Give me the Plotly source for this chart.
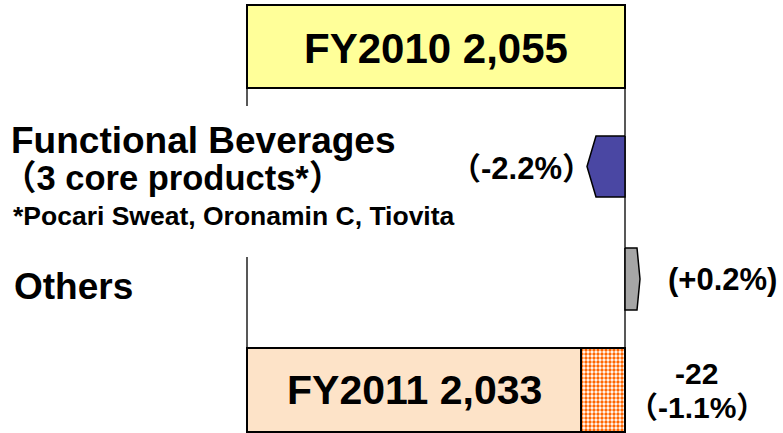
import plotly.graph_objects as go

# ---- data ----
fy_labels = ["FY2010", "FY2011"]
fy_values = [2055, 2033]
total_change = -22
total_change_pct = "-1.1%"
segment_names = ["Functional Beverages", "Others"]
segment_changes = [-19, 7.5]          # drawn bar lengths (schematic)
segment_pct = ["（-2.2%）", "(+0.2%)"]
footnote = "*Pocari Sweat, Oronamin C, Tiovita"

# ---- layout helpers (positions / styles) ----
W, H = 783, 433
X_START = 1866          # left edge of the bars on the value axis
PX_PER_UNIT = 2.0
x_lo = fy_values[0] - 625 / PX_PER_UNIT
x_hi = x_lo + W / PX_PER_UNIT

row_y = {"FY2010": 46.5, "Functional Beverages": 166.5, "Others": 279, "FY2011": 390}
row_h = {"FY2010": 83, "Functional Beverages": 61, "Others": 62, "FY2011": 84}

FONT = "Liberation Sans, Arial, Noto Sans CJK JP, sans-serif"

fig = go.Figure()

# FY2010 bar
fig.add_trace(go.Bar(
    orientation="h", y=[row_y["FY2010"]], x=[fy_values[0] - X_START], base=[X_START],
    width=[row_h["FY2010"]], marker=dict(color="#FFFF99", line=dict(color="black", width=2)),
    hoverinfo="skip", showlegend=False))

# FY2011 bar
fig.add_trace(go.Bar(
    orientation="h", y=[row_y["FY2011"]], x=[fy_values[1] - X_START], base=[X_START],
    width=[row_h["FY2011"]], marker=dict(color="#FDE3C8", line=dict(color="black", width=2)),
    hoverinfo="skip", showlegend=False))

# change bar (hatched)
fig.add_trace(go.Bar(
    orientation="h", y=[row_y["FY2011"]], x=[-total_change], base=[fy_values[1]],
    width=[row_h["FY2011"]],
    marker=dict(color="white", line=dict(color="black", width=2),
                pattern=dict(shape=".", fgcolor="#FF6600", bgcolor="white",
                             size=4, solidity=0.55, fillmode="replace")),
    hoverinfo="skip", showlegend=False))

# segment arrows (pentagons)
seg_colors = ["#4A47A3", "#A6A6A6"]
tip_depth = [4.5, 1.5]
for name, ch, col, td in zip(segment_names, segment_changes, seg_colors, tip_depth):
    yc, h = row_y[name], row_h[name]
    x0 = fy_values[0]
    x1 = x0 + ch
    sgn = 1 if ch > 0 else -1
    xs = [x0, x1 - sgn * td, x1, x1 - sgn * td, x0, x0]
    ys = [yc - h / 2, yc - h / 2, yc, yc + h / 2, yc + h / 2, yc - h / 2]
    fig.add_trace(go.Scatter(x=xs, y=ys, mode="lines", fill="toself", fillcolor=col,
                             line=dict(color="black", width=1.5), hoverinfo="skip",
                             showlegend=False))

shapes = [
    # middle white box
    dict(type="rect", xref="x", yref="y", x0=X_START, x1=fy_values[0], y0=88, y1=348,
         line=dict(color="#222222", width=1.5), fillcolor="white", layer="below"),
    # white text background covering the box edge
    dict(type="rect", xref="x", yref="y", x0=X_START - 5, x1=X_START + 5, y0=106, y1=257,
         line=dict(width=0), fillcolor="white", layer="above"),
]

annotations = []
def ann(text, x, y, size, xanchor="center", xref="x", bg=None):
    d = dict(text=text, x=x, y=y, xref=xref, yref="y", showarrow=False,
             xanchor=xanchor, yanchor="middle",
             font=dict(family=FONT, size=size, color="black"))
    if bg:
        d["bgcolor"] = bg
    annotations.append(d)

ann(f"<b>{fy_labels[0]} {fy_values[0]:,}</b>", (X_START + fy_values[0]) / 2, 48, 42)
ann(f"<b>{fy_labels[1]} {fy_values[1]:,}</b>", (X_START + fy_values[1]) / 2, 390, 41)

ann(f"<b>{segment_names[0]}</b>", 9 / W, 140, 37, xanchor="left", xref="paper")
ann("<b>（3 core products*）</b>", 0, 178, 34.5, xanchor="left", xref="paper")
ann(f"<b>{footnote}</b>", 11 / W, 216, 26.5, xanchor="left", xref="paper")
ann(f"<b>{segment_names[1]}</b>", 12 / W, 286, 37, xanchor="left", xref="paper")

ann(f"<b>{segment_pct[0]}</b>", x_lo + 521 / PX_PER_UNIT, 168, 31)
ann(f"<b>{segment_pct[1]}</b>", x_lo + 722.5 / PX_PER_UNIT, 279, 31)
ann(f"<b>{total_change}</b>", x_lo + 696.5 / PX_PER_UNIT, 373, 30)
ann(f"<b>（{total_change_pct}）</b>", x_lo + 696.5 / PX_PER_UNIT, 407, 30)

fig.update_layout(
    width=W, height=H, margin=dict(l=0, r=0, t=0, b=0),
    paper_bgcolor="white", plot_bgcolor="white",
    barmode="overlay", bargap=0,
    xaxis=dict(range=[x_lo, x_hi], visible=False, fixedrange=True),
    yaxis=dict(range=[H, 0], visible=False, fixedrange=True),
    shapes=shapes, annotations=annotations, showlegend=False,
)

fig.write_html("out.html", config={"displayModeBar": False},
               post_script="document.body.style.margin='0';document.body.style.overflow='hidden';")
